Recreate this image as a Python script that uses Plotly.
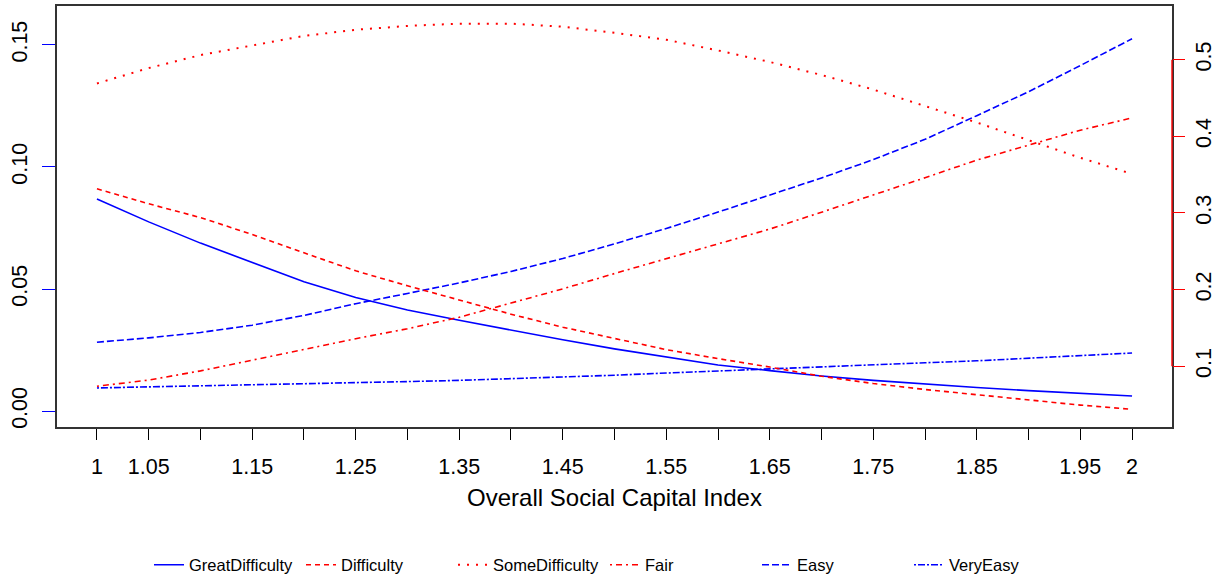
import plotly.graph_objects as go

# ---- data ----
social_capital = [1.00, 1.05, 1.10, 1.15, 1.20, 1.25, 1.30, 1.35, 1.40, 1.45, 1.50,
                  1.55, 1.60, 1.65, 1.70, 1.75, 1.80, 1.85, 1.90, 1.95, 2.00]

# left axis (blue series)
great_difficulty = [0.0869, 0.0775, 0.0688, 0.0608, 0.0530, 0.0465, 0.0414, 0.0372, 0.0331, 0.0292, 0.0255,
                    0.0221, 0.0189, 0.0166, 0.0144, 0.0126, 0.0110, 0.0097, 0.0084, 0.0072, 0.0062]
easy = [0.0282, 0.0300, 0.0322, 0.0352, 0.0392, 0.0440, 0.0482, 0.0525, 0.0572, 0.0625, 0.0685,
        0.0748, 0.0815, 0.0885, 0.0955, 0.1030, 0.1113, 0.1210, 0.1308, 0.1415, 0.1525]
very_easy = [0.0095, 0.0099, 0.0102, 0.0106, 0.0110, 0.0116, 0.0121, 0.0126, 0.0132, 0.0139, 0.0147,
             0.0156, 0.0165, 0.0173, 0.0181, 0.0190, 0.0198, 0.0206, 0.0216, 0.0227, 0.0238]

# right axis (red series)
difficulty = [0.3316, 0.312, 0.294, 0.272, 0.248, 0.2245, 0.205, 0.186, 0.168, 0.151, 0.136,
              0.1217, 0.110, 0.099, 0.087, 0.0775, 0.0697, 0.0628, 0.0567, 0.0494, 0.0438]
some_difficulty = [0.469, 0.489, 0.506, 0.519, 0.531, 0.539, 0.544, 0.547, 0.547, 0.543, 0.535,
                   0.526, 0.512, 0.497, 0.480, 0.461, 0.440, 0.418, 0.395, 0.372, 0.351]
fair = [0.074, 0.082, 0.094, 0.108, 0.122, 0.136, 0.149, 0.164, 0.1825, 0.201, 0.221,
        0.240, 0.259, 0.279, 0.301, 0.323, 0.346, 0.369, 0.389, 0.408, 0.424]

x_tickvals = social_capital
x_ticktext = ["1", "1.05", "", "1.15", "", "1.25", "", "1.35", "", "1.45", "",
              "1.55", "", "1.65", "", "1.75", "", "1.85", "", "1.95", "2"]
left_tickvals = [0.00, 0.05, 0.10, 0.15]
right_tickvals = [0.1, 0.2, 0.3, 0.4, 0.5]

BLUE = "#0000FF"
RED = "#FF0000"
FONT = "Liberation Sans, Arial, Helvetica, sans-serif"

series = [
    ("GreatDifficulty", great_difficulty, BLUE, "solid", "y", 1.6),
    ("Difficulty", difficulty, RED, "5px,4px", "y2", 1.6),
    ("SomeDifficulty", some_difficulty, RED, "2px,7px", "y2", 2.0),
    ("Fair", fair, RED, "2px,4px,6px,4px", "y2", 1.6),
    ("Easy", easy, BLUE, "7px,3px", "y", 1.6),
    ("VeryEasy", very_easy, BLUE, "2px,2px,7px,2px", "y", 1.6),
]

fig = go.Figure()
for name, vals, color, dash, yax, lw in series:
    fig.add_trace(go.Scatter(
        x=social_capital, y=vals, name=name, mode="lines", yaxis=yax,
        line=dict(color=color, width=lw, dash=dash),
    ))

fig.update_layout(
    width=1224, height=580,
    margin=dict(l=57, r=52, t=4, b=153),
    paper_bgcolor="white", plot_bgcolor="white",
    font=dict(family=FONT, color="black"),
    xaxis=dict(
        range=[0.9614, 2.0386], tickmode="array", tickvals=x_tickvals, ticktext=x_ticktext,
        ticks="outside", ticklen=11, tickcolor="black", tickwidth=1.2, ticklabelstandoff=8,
        showgrid=False, zeroline=False, showline=True, linecolor="#333333", linewidth=1.6, mirror=True,
        tickfont=dict(size=21.5, family=FONT, color="black"),
        title=dict(text="Overall Social Capital Index", font=dict(size=24, family=FONT, color="black"), standoff=12),
    ),
    yaxis=dict(
        range=[-0.0065, 0.1659], tickmode="array", tickvals=left_tickvals, tickformat=".2f",
        ticks="outside", ticklen=13, tickcolor=BLUE, tickwidth=1.2, tickangle=-90, ticklabelstandoff=7,
        showgrid=False, zeroline=False, showline=True, linecolor="#333333", linewidth=1.6, mirror=True,
        tickfont=dict(size=21.5, family=FONT, color="black"),
    ),
    yaxis2=dict(
        range=[0.0208, 0.570], overlaying="y", side="right", tickmode="array",
        tickvals=right_tickvals, tickformat=".1f",
        ticks="outside", ticklen=12, tickcolor=RED, tickwidth=1.2, tickangle=-90,
        showgrid=False, zeroline=False, showline=False,
        tickfont=dict(size=21.5, family=FONT, color="black"),
    ),
    legend=dict(
        orientation="h", xref="container", yref="container",
        x=149 / 1224, y=1 - 565 / 580, xanchor="left", yanchor="middle",
        entrywidth=107, entrywidthmode="pixels",
        font=dict(size=16.5, family=FONT, color="black"),
        bgcolor="rgba(0,0,0,0)", itemwidth=30,
    ),
    showlegend=True,
)

# red axis line on the right, spanning only the labelled range (as in the original)
fig.add_shape(type="line", xref="paper", yref="y2", x0=1, x1=1, y0=0.1, y1=0.5,
              line=dict(color=RED, width=1.4))

fig.write_html("out.html", config={"displayModeBar": False},
               post_script="document.body.style.margin='0';")
